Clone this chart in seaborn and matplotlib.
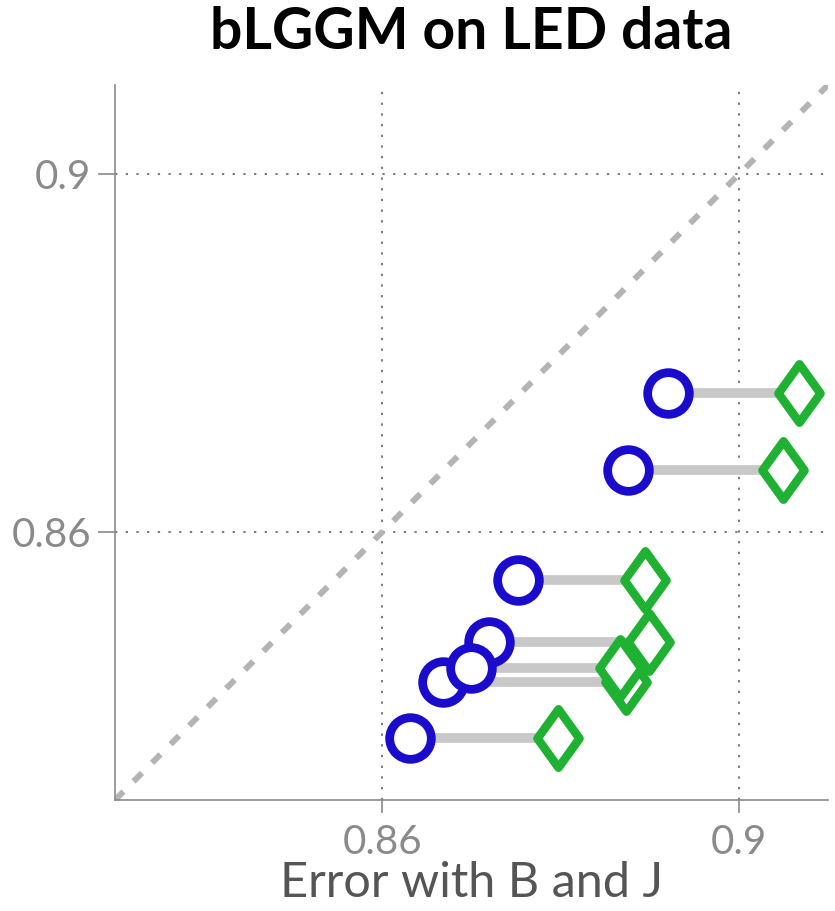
import numpy as np
import pandas as pd
import seaborn as sns
import matplotlib.pyplot as plt
from matplotlib.path import Path

# data
err_bj = [0.8920, 0.8876, 0.8752, 0.8720, 0.8668, 0.8699, 0.8631]
err_other = [0.9068, 0.9049, 0.8895, 0.8899, 0.8873, 0.8867, 0.8797]
err_y = [0.8755, 0.8669, 0.8546, 0.8477, 0.8432, 0.8448, 0.8369]
ticks = [0.86, 0.9]
tick_labels = ["0.86", "0.9"]

df = pd.DataFrame({"bj": err_bj, "other": err_other, "y": err_y})

sns.set_theme(style="white")
plt.rcParams['font.family'] = ['Lato', 'DejaVu Sans']

fig = plt.figure(figsize=(8.35, 9.11), dpi=100)
ax = fig.add_axes([0.1377, 0.1218, 0.8539, 0.7849])

lims = (0.83, 0.91)
ax.plot(lims, lims, color="#b4b4b4", lw=4.3, ls=(0, (2, 2.4)), zorder=1)

ax.hlines(df["y"], df["bj"], df["other"], color="#c8c8c8", lw=7, zorder=2)

diamond = Path([(0, 1), (0.72, 0), (0, -1), (-0.72, 0), (0, 1)],
               [Path.MOVETO, Path.LINETO, Path.LINETO, Path.LINETO, Path.CLOSEPOLY])

sns.scatterplot(data=df, x="other", y="y", marker=diamond, s=42**2,
                facecolor="white", edgecolor="#1fb232", linewidth=6.2,
                ax=ax, zorder=3, legend=False)
sns.scatterplot(data=df, x="bj", y="y", marker="o", s=30**2,
                facecolor="white", edgecolor="#1a0ccc", linewidth=6.3,
                ax=ax, zorder=4, legend=False)

ax.set_xlim(lims)
ax.set_ylim(lims)
ax.set_xticks(ticks)
ax.set_xticklabels(tick_labels)
ax.set_yticks(ticks)
ax.set_yticklabels(tick_labels)
ax.grid(True, ls=(0, (1.5, 5.5)), color="#555555", lw=1.1)

for side in ["top", "right"]:
    ax.spines[side].set_visible(False)
for side in ["left", "bottom"]:
    ax.spines[side].set_color("#8a8a8a")
    ax.spines[side].set_linewidth(1.2)

ax.tick_params(axis="y", direction="out", length=12, width=1.2, color="#8a8a8a",
               labelsize=29, labelcolor="#8a8a8a", pad=5, left=True)
ax.tick_params(axis="x", direction="out", length=9, width=1.2, color="#8a8a8a",
               labelsize=29, labelcolor="#8a8a8a", pad=8, bottom=True)

ax.set_xlabel("Error with B and J", fontsize=35, color="#555555", labelpad=0)
ax.set_ylabel("")
ax.set_title("bLGGM on LED data", fontsize=41, fontweight="bold", color="black", pad=26)

fig.savefig("out.png", dpi=100)
